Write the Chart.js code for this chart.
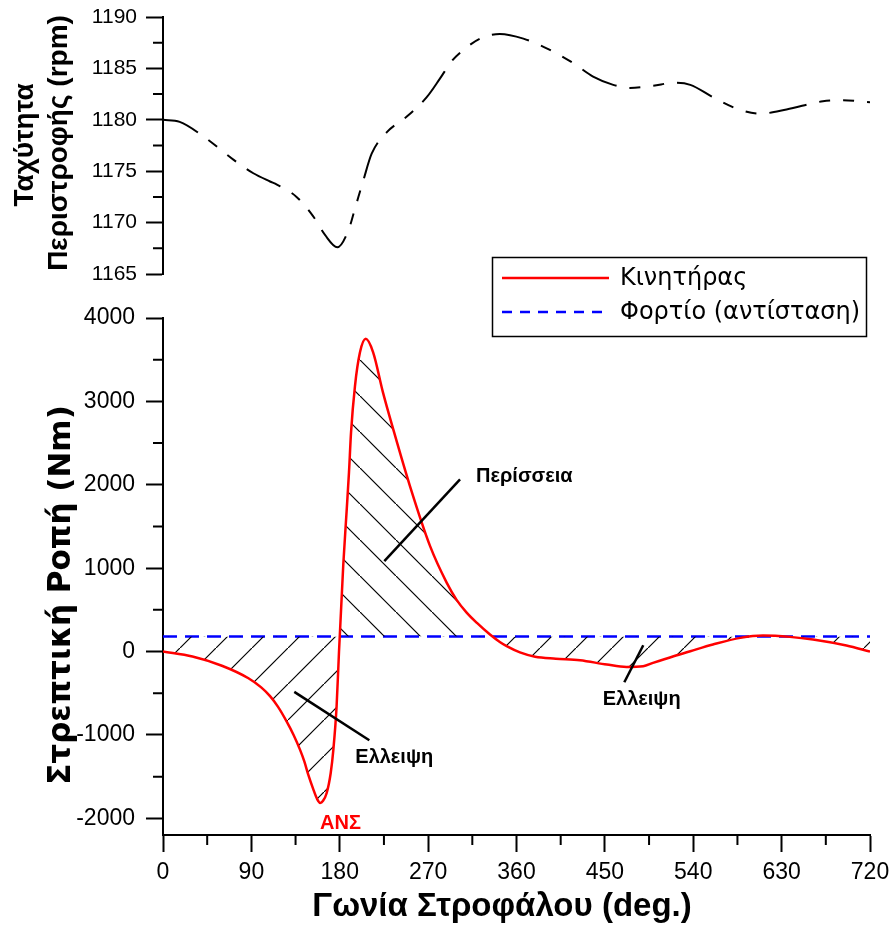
<!DOCTYPE html>
<html>
<head>
<meta charset="utf-8">
<script src="https://cdn.jsdelivr.net/npm/chart.js@4.4.1/dist/chart.umd.min.js"></script>
<style>
  body { margin: 0; background: #fff; }
  canvas { position: absolute; left: 0; top: 0; }
</style>
</head>
<body>
<canvas id="speedChart" width="893" height="926"></canvas>
<canvas id="torqueChart" width="893" height="926"></canvas>
<script>
// crank angle (deg) vs engine speed (rpm)
const speedAngles = [0, 17, 41, 72, 92, 109, 116, 136, 153, 165, 177.5, 189, 195.6, 204, 212.5, 228, 248, 268.6, 282, 294, 306, 323, 343, 367, 394, 418, 438, 458.5, 475.5, 499, 520, 537, 560, 584, 608, 635, 672, 692.5, 720];
const speedRpm = [1180.0, 1179.8, 1178.4, 1176.1, 1174.8, 1174.0, 1173.7, 1172.5, 1170.6, 1168.8, 1167.6, 1169.3, 1171.4, 1174.1, 1176.7, 1178.8, 1180.3, 1182.2, 1184.0, 1185.7, 1186.8, 1187.9, 1188.35, 1187.9, 1186.8, 1185.5, 1184.2, 1183.4, 1183.1, 1183.3, 1183.6, 1183.4, 1182.2, 1181.1, 1180.6, 1181.0, 1181.8, 1181.9, 1181.7];

// torque (Nm): engine and load
const torqueAngles = [0, 30, 60, 87, 100, 109, 117, 126, 133, 139.5, 144, 148, 153, 157, 160, 163, 166.7, 170.8, 173.5, 176.8, 179.2, 183.6, 187, 189.4, 191.5, 195.5, 200.6, 206.5, 214, 224, 234.5, 251.5, 272, 289, 299, 309, 320, 333, 343, 350, 363.5, 379, 400, 424.6, 452, 472, 489, 499, 520, 537, 560, 588, 611, 638.5, 662, 696, 720];
const engineTorque = [0, -60, -170, -320, -430, -535, -660, -840, -1000, -1176, -1320, -1480, -1650, -1770, -1815, -1790, -1696, -1456, -1176, -656, -12, 1044, 1684, 2148, 2628, 3184, 3588, 3750, 3588, 3108, 2664, 1984, 1264, 824, 620, 470, 340, 204, 115, 65, -10, -62, -85, -104, -156, -184, -176, -136, -56, 4, 84, 164, 192, 176, 144, 72, 0];
const loadAngles = [0, 720];
const loadTorque = [180, 180];

// tick labels
const angleTicks = [0, 90, 180, 270, 360, 450, 540, 630, 720];
const rpmTicks = [1165, 1170, 1175, 1180, 1185, 1190];
const torqueTicks = [-2000, -1000, 0, 1000, 2000, 3000, 4000];

const toPoints = (xs, ys) => xs.map((x, i) => ({x: x, y: ys[i]}));

Chart.defaults.font.family = "'Liberation Sans', Arial, sans-serif";
Chart.defaults.color = '#000';

function hatch(dir) {
  const s = 36;
  const c = document.createElement('canvas');
  c.width = s; c.height = s;
  const g = c.getContext('2d');
  g.strokeStyle = '#000';
  g.lineWidth = 1.2;
  g.beginPath();
  if (dir === '/') { g.moveTo(-4, s + 4); g.lineTo(s + 4, -4); }
  else { g.moveTo(-4, -4); g.lineTo(s + 4, s + 4); }
  g.stroke();
  return g.createPattern(c, 'repeat');
}

// keep the plot area exactly where the axes are in the picture
function noOverflow(s) {
  s.paddingLeft = 0; s.paddingRight = 0; s.paddingTop = 0; s.paddingBottom = 0;
}

// minor ticks halfway between the labelled ones
const minorTicks = {
  id: 'minorTicks',
  afterDraw(chart) {
    const ctx = chart.ctx;
    ctx.save();
    ctx.strokeStyle = '#000';
    ctx.lineWidth = 2;
    ctx.beginPath();
    Object.values(chart.scales).forEach(scale => {
      if (!scale.options.display) return;
      const t = scale.ticks.map(k => k.value);
      for (let i = 0; i < t.length - 1; i++) {
        const p = scale.getPixelForValue((t[i] + t[i + 1]) / 2);
        if (scale.axis === 'x') { ctx.moveTo(p, scale.top); ctx.lineTo(p, scale.top + 10); }
        else { ctx.moveTo(scale.right - 10, p); ctx.lineTo(scale.right, p); }
      }
    });
    ctx.stroke();
    ctx.restore();
  }
};

function rotatedText(ctx, text, x, y, font) {
  ctx.save();
  ctx.font = font;
  ctx.translate(x, y);
  ctx.rotate(-Math.PI / 2);
  ctx.textAlign = 'center';
  ctx.textBaseline = 'alphabetic';
  ctx.fillStyle = '#000';
  ctx.fillText(text, 0, 0);
  ctx.restore();
}

const speedTitles = {
  id: 'speedTitles',
  afterDraw(chart) {
    const ctx = chart.ctx;
    rotatedText(ctx, 'Ταχύτητα', 33, 145, "bold 28px 'Liberation Sans', Arial");
    rotatedText(ctx, 'Περιστροφής (rpm)', 67, 143, "bold 28px 'Liberation Sans', Arial");
  }
};

new Chart(document.getElementById('speedChart').getContext('2d'), {
  type: 'line',
  data: {
    datasets: [{
      label: 'Ταχύτητα Περιστροφής',
      data: toPoints(speedAngles, speedRpm),
      borderColor: '#000',
      borderWidth: 2,
      borderDash: [38, 13, 11, 13, 11, 13],
      cubicInterpolationMode: 'monotone',
      pointRadius: 0,
      fill: false
    }]
  },
  options: {
    responsive: false,
    animation: false,
    layout: { padding: { top: 17, right: 23, bottom: 652, left: 0 } },
    plugins: { legend: { display: false }, tooltip: { enabled: false } },
    scales: {
      x: { type: 'linear', min: 0, max: 720, display: false },
      y: {
        min: 1165,
        max: 1190,
        afterBuildTicks: s => { s.ticks = rpmTicks.map(v => ({value: v})); },
        afterFit: s => { s.width = 163; noOverflow(s); },
        ticks: { font: { size: 21 }, padding: 9, color: '#000', callback: v => String(v) },
        grid: { drawOnChartArea: false, tickLength: 17, tickWidth: 2, tickColor: '#000' },
        border: { color: '#000', width: 2 }
      }
    }
  },
  plugins: [minorTicks, speedTitles]
});

const notes = [
  { text: 'Περίσσεια', x: 318.8, y: 2104, align: 'left', color: '#000', line: [225.4, 1084, 302.5, 2064] },
  { text: 'Ελλειψη', x: 235.5, y: -1276, align: 'center', color: '#000', line: [133.7, -484, 210.1, -1064] },
  { text: 'Ελλειψη', x: 487.5, y: -576, align: 'center', color: '#000', line: [489.1, 76, 469.8, -368] },
  { text: 'ΑΝΣ', x: 180.8, y: -2064, align: 'center', color: '#ff0000' }
];

const torqueExtras = {
  id: 'torqueExtras',
  afterDraw(chart) {
    const ctx = chart.ctx;
    const xs = chart.scales.x, ys = chart.scales.y;

    // pointers and labels
    ctx.save();
    notes.forEach(n => {
      if (n.line) {
        ctx.strokeStyle = '#000';
        ctx.lineWidth = 2.5;
        ctx.beginPath();
        ctx.moveTo(xs.getPixelForValue(n.line[0]), ys.getPixelForValue(n.line[1]));
        ctx.lineTo(xs.getPixelForValue(n.line[2]), ys.getPixelForValue(n.line[3]));
        ctx.stroke();
      }
      ctx.font = "bold 20px 'Liberation Sans', Arial";
      ctx.fillStyle = n.color;
      ctx.textAlign = n.align;
      ctx.textBaseline = 'middle';
      ctx.fillText(n.text, xs.getPixelForValue(n.x), ys.getPixelForValue(n.y));
    });
    ctx.restore();

    // axis titles
    rotatedText(ctx, 'Στρεπτική Ροπή (Nm)', 70, 595, "bold 31px 'DejaVu Sans'");
    ctx.save();
    ctx.font = "bold 33px 'Liberation Sans', Arial";
    ctx.textAlign = 'center';
    ctx.textBaseline = 'alphabetic';
    ctx.fillStyle = '#000';
    ctx.fillText('Γωνία Στροφάλου (deg.)', 502, 916);
    ctx.restore();

    // legend box
    const ds = chart.data.datasets;
    ctx.save();
    ctx.fillStyle = '#fff';
    ctx.fillRect(492, 257, 375, 80);
    ctx.strokeStyle = '#000';
    ctx.lineWidth = 1.5;
    ctx.strokeRect(492.5, 257.5, 374, 79);
    ctx.lineWidth = 2.5;
    ctx.strokeStyle = ds[0].borderColor;
    ctx.beginPath(); ctx.moveTo(502, 278); ctx.lineTo(609, 278); ctx.stroke();
    ctx.strokeStyle = ds[1].borderColor;
    ctx.setLineDash([10, 8]);
    ctx.beginPath(); ctx.moveTo(502, 312); ctx.lineTo(602, 312); ctx.stroke();
    ctx.setLineDash([]);
    ctx.font = "24px 'DejaVu Sans'";
    ctx.fillStyle = '#000';
    ctx.textAlign = 'left';
    ctx.textBaseline = 'middle';
    ctx.fillText(ds[0].label, 620, 279);
    ctx.fillText(ds[1].label, 620, 313);
    ctx.restore();
  }
};

new Chart(document.getElementById('torqueChart').getContext('2d'), {
  type: 'line',
  data: {
    datasets: [{
      label: 'Κινητήρας',
      data: toPoints(torqueAngles, engineTorque),
      borderColor: '#ff0000',
      borderWidth: 2.5,
      cubicInterpolationMode: 'monotone',
      pointRadius: 0,
      fill: { target: 1, above: hatch('\\'), below: hatch('/') }
    },
    {
      label: 'Φορτίο (αντίσταση)',
      data: toPoints(loadAngles, loadTorque),
      borderColor: '#0000ff',
      borderWidth: 2.5,
      borderDash: [14, 8],
      pointRadius: 0,
      fill: false
    }]
  },
  options: {
    responsive: false,
    animation: false,
    layout: { padding: { top: 318, right: 23, bottom: 0, left: 0 } },
    plugins: { legend: { display: false }, tooltip: { enabled: false } },
    scales: {
      x: {
        type: 'linear',
        min: 0,
        max: 720,
        afterBuildTicks: s => { s.ticks = angleTicks.map(v => ({value: v})); },
        afterFit: s => { s.height = 91; noOverflow(s); },
        ticks: { font: { size: 23 }, padding: 7, maxRotation: 0, autoSkip: false, color: '#000', callback: v => String(v) },
        grid: { drawOnChartArea: false, tickLength: 17, tickWidth: 2, tickColor: '#000' },
        border: { color: '#000', width: 2 }
      },
      y: {
        min: -2200,
        max: 4000,
        afterBuildTicks: s => { s.ticks = torqueTicks.map(v => ({value: v})); },
        afterFit: s => { s.width = 163; noOverflow(s); },
        ticks: { font: { size: 23 }, padding: 11, color: '#000', callback: v => String(v) },
        grid: { drawOnChartArea: false, tickLength: 17, tickWidth: 2, tickColor: '#000' },
        border: { color: '#000', width: 2 }
      }
    }
  },
  plugins: [minorTicks, torqueExtras]
});
</script>
</body>
</html>
